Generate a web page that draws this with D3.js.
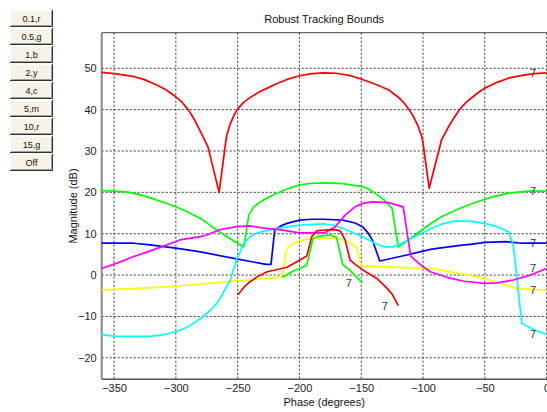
<!DOCTYPE html>
<html>
<head>
<meta charset="utf-8">
<script src="https://cdn.jsdelivr.net/npm/d3@7/dist/d3.min.js"></script>
<style>
  html, body { margin: 0; padding: 0; background: #ffffff; overflow: hidden; }
  svg { display: block; font-family: "Liberation Sans", Arial, Helvetica, sans-serif; }
</style>
</head>
<body>
<svg id="chart" width="547" height="412"></svg>
<script>
// Robust tracking bounds on the Nichols plane: [phase (deg), magnitude (dB)]
const bound0p1 = [[-360,49.0],[-350,48.7],[-340,48.3],[-334,48.0],[-325,47.2],[-315,45.9],[-308,44.8],[-300,43.1],[-295,41.8],[-290,40.0],[-285,37.6],[-281,35.2],[-277,32.8],[-274,31.0],[-265,20.0],[-259,33.6],[-256,36.5],[-253,38.6],[-250,40.2],[-245,41.8],[-240,42.9],[-233,44.2],[-226,45.2],[-218,46.3],[-210,47.3],[-200,48.2],[-190,48.7],[-180,48.9],[-170,48.8],[-160,48.3],[-149,47.3],[-140,46.3],[-128,44.8],[-120,43.0],[-115,41.5],[-112,40.3],[-108,38.5],[-104,36.0],[-101,33.5],[-100,31.9],[-95,21.0],[-85,32.7],[-80,35.5],[-75,38.0],[-70,40.2],[-65,41.8],[-60,43.0],[-55,44.2],[-50,45.2],[-40,46.6],[-31,47.6],[-20,48.3],[-10,48.7],[0,48.9]];
const bound0p5 = [[-360,20.4],[-350,20.3],[-340,20.1],[-330,19.5],[-320,18.6],[-310,17.6],[-300,16.5],[-290,15.2],[-280,13.7],[-267,10.9],[-255,8.6],[-245,6.8],[-243,10.5],[-241,14.5],[-237,16.5],[-230,18.0],[-221,19.4],[-210,20.8],[-200,21.8],[-190,22.2],[-180,22.3],[-165,22.1],[-149,21.4],[-144,20.8],[-139,19.8],[-132,18.3],[-125,16.1],[-120,6.8],[-110,8.9],[-101,10.9],[-93,12.6],[-85,14.1],[-72,15.9],[-60,17.3],[-45,18.8],[-31,19.8],[-15,20.3],[0,20.3]];
const bound1 = [[-360,7.7],[-334,7.7],[-321,7.3],[-300,6.5],[-280,5.6],[-251,3.9],[-227,2.6],[-223,2.6],[-220,10.9],[-215,11.9],[-210,12.5],[-200,13.3],[-190,13.5],[-180,13.5],[-165,13.3],[-155,12.6],[-149,11.7],[-145,10.4],[-141,8.5],[-135,3.4],[-114,4.8],[-94,6.2],[-87,6.5],[-70,7.2],[-60,7.5],[-50,7.9],[-33,8.1],[-20,7.7],[0,7.7]];
const bound2 = [[-360,-3.6],[-330,-3.2],[-300,-2.7],[-251,-1.4],[-218,-0.6],[-214,0.0],[-210,6.5],[-205,7.6],[-200,8.3],[-193,8.7],[-186,8.9],[-170,8.9],[-160,8.0],[-154,6.8],[-150,2.2],[-128,2.0],[-101,1.6],[-94,1.6],[-80,0.9],[-67,0.2],[-50,-0.8],[-40,-1.8],[-24,-3.2],[-10,-3.5],[0,-3.6]];
const bound4 = [[-360,-14.4],[-348,-14.8],[-321,-14.8],[-310,-14.4],[-300,-13.7],[-290,-12.5],[-280,-10.5],[-272,-8.5],[-267,-6.9],[-262,-4.5],[-256,-1.2],[-251,3.6],[-245,7.7],[-240,9.2],[-235,10.1],[-226,10.8],[-218,11.3],[-200,12.1],[-180,12.4],[-172,12.0],[-165,11.3],[-157,10.3],[-149,9.3],[-140,7.8],[-131,6.8],[-125,6.8],[-120,7.3],[-110,8.8],[-101,10.1],[-93,11.3],[-85,12.3],[-74,13.1],[-60,13.0],[-50,12.5],[-40,11.7],[-31,10.5],[-27,7.3],[-20,-11.7],[-8,-13.5],[0,-14.3]];
const bound5 = [[-360,1.6],[-345,3.2],[-334,4.5],[-324,5.5],[-310,7.0],[-300,8.1],[-297,8.5],[-280,9.3],[-275,9.7],[-264,11.0],[-251,11.7],[-240,11.9],[-230,11.4],[-216,11.0],[-200,10.2],[-180,10.2],[-171,11.7],[-163,14.5],[-155,16.5],[-148,17.4],[-141,17.7],[-128,17.5],[-116,16.5],[-110,4.6],[-100,2.0],[-94,0.8],[-80,-0.6],[-67,-1.5],[-50,-2.0],[-40,-1.9],[-27,-1.2],[-13,0.0],[0,1.6]];
const bound10 = [[-250,-4.8],[-245,-3.0],[-240,-1.6],[-233,-0.2],[-226,0.8],[-210,1.9],[-194,4.6],[-190,9.3],[-186,10.7],[-180,10.9],[-171,11.0],[-167,10.7],[-163,8.5],[-159,3.6],[-154,2.4],[-147,0.9],[-137,-0.9],[-130,-2.9],[-125,-4.6],[-120,-7.4]];
const bound15 = [[-214,-0.6],[-205,1.0],[-200,1.6],[-194,2.4],[-189,8.9],[-184,9.4],[-175,9.7],[-170,9.1],[-168,6.5],[-165,2.6],[-160,1.4],[-149,-1.9]];

const bounds = [bound0p1, bound0p5, bound1, bound2, bound4, bound5, bound10, bound15];
const boundColors = ["#ff0000", "#00ff00", "#0000ff", "#ffff00", "#00ffff", "#ff00ff", "#ff0000", "#00ff00"];
const boundTag = "7";

const legendLabels = ["0.1,r", "0.5,g", "1,b", "2,y", "4,c", "5,m", "10,r", "15,g", "Off"];
const xTicks = [-350, -300, -250, -200, -150, -100, -50, 0];
const yTicks = [-20, -10, 0, 10, 20, 30, 40, 50];

const svg = d3.select("#chart");
const plot = { left: 101.7, right: 546.6, top: 32.7, bottom: 379.3 };

const x = d3.scaleLinear().domain([-360, 0]).range([plot.left, plot.right]);
const y = d3.scaleLinear().domain([-25.2, 58.6]).range([plot.bottom, plot.top]);

// grid
const grid = svg.append("g");
grid.selectAll("line.vg").data(xTicks).join("line")
  .attr("x1", d => x(d)).attr("x2", d => x(d))
  .attr("y1", plot.top).attr("y2", plot.bottom)
  .attr("stroke", "#333").attr("stroke-width", 1).attr("stroke-dasharray", "2,2");
grid.selectAll("line.hg").data(yTicks).join("line")
  .attr("x1", plot.left).attr("x2", plot.right)
  .attr("y1", d => y(d)).attr("y2", d => y(d))
  .attr("stroke", "#333").attr("stroke-width", 1).attr("stroke-dasharray", "2,2");

// axes (labels only; grid carries the ticks)
const xAxis = svg.append("g").attr("transform", `translate(0,${plot.bottom})`)
  .call(d3.axisBottom(x).tickValues(xTicks).tickSize(0).tickPadding(5).tickFormat(d3.format("d")));
const yAxis = svg.append("g").attr("transform", `translate(${plot.left},0)`)
  .call(d3.axisLeft(y).tickValues(yTicks).tickSize(0).tickPadding(5).tickFormat(d3.format("d")));
[xAxis, yAxis].forEach(a => {
  a.select(".domain").remove();
  a.selectAll("text").attr("font-size", "11px").attr("fill", "#222")
    .attr("font-family", "'Liberation Sans', Arial, sans-serif");
});

// axes box
svg.append("line").attr("x1", plot.left).attr("x2", plot.right + 2).attr("y1", plot.top).attr("y2", plot.top)
  .attr("stroke", "#444").attr("stroke-width", 1);
svg.append("line").attr("x1", plot.left).attr("x2", plot.right + 2).attr("y1", plot.bottom).attr("y2", plot.bottom)
  .attr("stroke", "#555").attr("stroke-width", 1.5);
svg.append("line").attr("x1", plot.left).attr("x2", plot.left).attr("y1", plot.top).attr("y2", plot.bottom)
  .attr("stroke", "#888").attr("stroke-width", 2);

// bound curves
const line = d3.line().x(d => x(d[0])).y(d => y(d[1]));
const curves = svg.append("g");
bounds.forEach((b, i) => {
  curves.append("path").datum(b)
    .attr("d", line)
    .attr("fill", "none")
    .attr("stroke", boundColors[i])
    .attr("stroke-width", 1.7)
    .attr("stroke-linejoin", "round");
});

// tags at curve ends
bounds.forEach(b => {
  const last = b[b.length - 1];
  svg.append("text")
    .attr("x", x(last[0] - 11)).attr("y", y(last[1]))
    .attr("text-anchor", "middle").attr("dominant-baseline", "central")
    .attr("font-size", "11px").attr("fill", "#333")
    .text(boundTag);
});

// titles
svg.append("text").attr("x", (plot.left + plot.right) / 2).attr("y", 23)
  .attr("text-anchor", "middle").attr("font-size", "11px").attr("fill", "#111")
  .text("Robust Tracking Bounds");
svg.append("text").attr("x", (plot.left + plot.right) / 2).attr("y", 406)
  .attr("text-anchor", "middle").attr("font-size", "11px").attr("fill", "#111")
  .text("Phase (degrees)");
svg.append("text")
  .attr("transform", `translate(73,${(plot.top + plot.bottom) / 2}) rotate(-90)`)
  .attr("text-anchor", "middle").attr("dominant-baseline", "central")
  .attr("font-size", "11px").attr("fill", "#111")
  .text("Magnitude (dB)");

// frequency selector buttons
const btn = svg.append("g");
legendLabels.forEach((lab, i) => {
  const bx = 10, by = 10 + i * 18, bw = 43, bh = 17;
  const g = btn.append("g");
  g.append("rect").attr("x", bx).attr("y", by).attr("width", bw).attr("height", bh).attr("fill", "#f7f3e7");
  g.append("path").attr("d", `M${bx + 0.5},${by + bh}V${by + 0.5}H${bx + bw}`).attr("fill", "none").attr("stroke", "#ffffff");
  g.append("path").attr("d", `M${bx + 1},${by + bh - 1.5}H${bx + bw - 1.5}V${by + 1}`).attr("fill", "none").attr("stroke", "#a0a0a0");
  g.append("path").attr("d", `M${bx},${by + bh - 0.5}H${bx + bw - 0.5}V${by}`).attr("fill", "none").attr("stroke", "#303030");
  g.append("text").attr("x", bx + bw / 2).attr("y", by + bh / 2 + 0.5)
    .attr("text-anchor", "middle").attr("dominant-baseline", "central")
    .attr("font-size", "9px").attr("fill", "#111").text(lab);
});
</script>
</body>
</html>
